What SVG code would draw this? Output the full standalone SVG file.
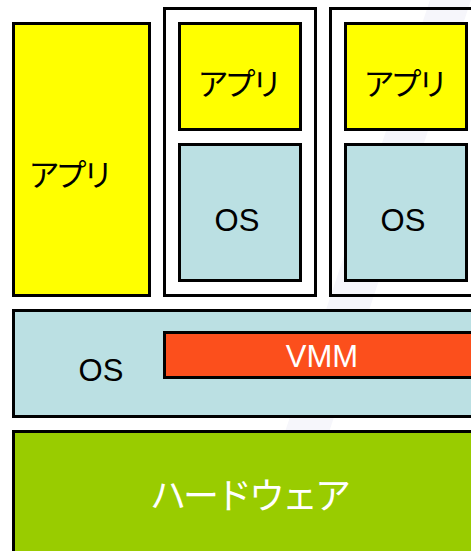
<svg xmlns="http://www.w3.org/2000/svg" width="471" height="551" viewBox="0 0 471 551">
  <style>
    .box { stroke: #000; stroke-width: 3; }
    .app { fill: #ffff00; }
    .os { fill: #bbe0e3; }
    .vm { fill: none; }
    .vmm { fill: #fc4f1c; }
    .hw { fill: #99cc00; }
    .jp { font-family: "Noto Sans CJK JP", "Liberation Sans", sans-serif; font-size: 31px; letter-spacing: -4px; text-anchor: middle; }
    .lat { font-family: "Liberation Sans", Arial, sans-serif; font-size: 31px; text-anchor: middle; }
    .dark { fill: #000; }
    .light { fill: #fff; }
  </style>

  <!-- page background with a faint diagonal sheen -->
  <rect x="0" y="0" width="471" height="551" fill="#fff"/>
  <polygon points="430,0 471,0 290,551 245,551" fill="#f6f6fb"/>

  <!-- native application -->
  <g id="app-native">
    <rect class="box app" x="13.5" y="23.5" width="136" height="272"/>
    <text class="jp dark" x="69" y="186">アプリ</text>
  </g>

  <!-- virtual machine 1 -->
  <g id="vm1">
    <rect class="box vm" x="164.5" y="8.5" width="151" height="287" stroke-width="2.5"/>
  </g>
  <g id="vm1-app">
    <rect class="box app" x="179.5" y="23.5" width="121" height="106"/>
    <text class="jp dark" x="238" y="95">アプリ</text>
  </g>
  <g id="vm1-os">
    <rect class="box os" x="179.5" y="144.5" width="121" height="136"/>
    <text class="lat dark" x="237" y="231">OS</text>
  </g>

  <!-- virtual machine 2 -->
  <g id="vm2">
    <rect class="box vm" x="330.5" y="8.5" width="151" height="287" stroke-width="2.5"/>
  </g>
  <g id="vm2-app">
    <rect class="box app" x="345.5" y="23.5" width="121" height="106"/>
    <text class="jp dark" x="404" y="95">アプリ</text>
  </g>
  <g id="vm2-os">
    <rect class="box os" x="345.5" y="144.5" width="121" height="136"/>
    <text class="lat dark" x="403" y="231">OS</text>
  </g>

  <!-- host OS with the VMM inside it -->
  <g id="host-os">
    <rect class="box os" x="13.5" y="310.5" width="470" height="106"/>
    <text class="lat dark" x="101" y="381">OS</text>
  </g>
  <g id="vmm">
    <rect class="box vmm" x="164.5" y="332.5" width="320" height="45"/>
    <text class="lat light" x="322" y="367">VMM</text>
  </g>

  <!-- hardware -->
  <g id="hardware">
    <rect class="box hw" x="13.5" y="431.5" width="470" height="130"/>
    <text class="jp light" x="249" y="509" style="font-size:36px;letter-spacing:-3px">ハードウェア</text>
  </g>

  <g id="connectors"/>
</svg>
